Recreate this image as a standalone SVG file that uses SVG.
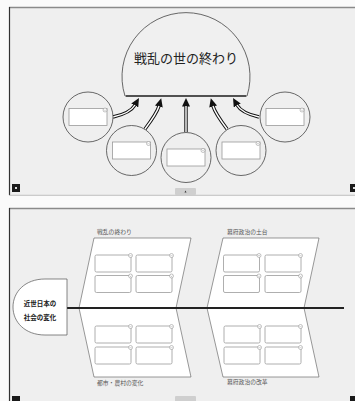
<svg xmlns="http://www.w3.org/2000/svg" width="355" height="401" viewBox="0 0 355 401">
<style>
.panel{fill:#efefef}
.tb{stroke:#8a8a8a;stroke-width:1.5}
.lb{stroke:#333;stroke-width:1.2}
.circ{fill:#efefef;stroke:#444;stroke-width:0.8}
.wbox{fill:#fff;stroke:#9a9a9a;stroke-width:0.8}
.ico{fill:#fff;stroke:#888;stroke-width:0.5}
.para{fill:#fff;stroke:#555;stroke-width:0.6}
.lbl{font-family:"Noto Sans CJK JP","Noto Sans",sans-serif;font-size:5.8px;fill:#555}
.outer{fill:none;stroke:#111;stroke-width:3.4}
.inner{fill:none;stroke:#fff;stroke-width:1.4}
.sq{fill:#1a1a1a}
.tab{fill:#cfcfcf}
</style>
<defs>
<marker id="ah" markerUnits="userSpaceOnUse" markerWidth="9" markerHeight="8" refX="0.5" refY="4" orient="auto">
<path d="M0,0 L8.5,4 L0,8 z" fill="#111"/>
</marker>
<g id="icon"><circle r="2" class="ico"/><path d="M-0.9,-0.3 L0,0.6 L0.9,-0.3" fill="none" stroke="#777" stroke-width="0.4"/></g>
</defs>
<rect width="355" height="401" fill="#fafafa"/>
<!-- top panel -->
<g id="panel-top">
<rect class="panel" x="9" y="7" width="350" height="188"/>
<line class="tb" x1="9" y1="7.5" x2="355" y2="7.5"/>
<line class="lb" x1="9.5" y1="7" x2="9.5" y2="195"/>
<line x1="9" y1="195.3" x2="355" y2="195.3" stroke="#999" stroke-width="0.6"/>
<rect class="sq" x="12" y="184" width="8" height="8"/><rect x="15" y="187" width="2" height="2" fill="#ddd"/>
<rect class="sq" x="350" y="184" width="8" height="8"/><rect x="353" y="187" width="2" height="2" fill="#ddd"/>
<rect class="tab" x="175" y="188" width="21" height="7" rx="1"/>
<path d="M184.5,192.5 L185.5,190.5 L186.5,192.5 z" fill="#333"/>
</g>
<g id="dome">
<path d="M125,96 A64,64 0 1 1 247,96 Z" fill="#f0f0f0" stroke="#444" stroke-width="0.8"/>
<line x1="126" y1="96" x2="246" y2="96" stroke="#333" stroke-width="1.6"/>
<text x="186" y="63" text-anchor="middle" font-family="Noto Sans CJK JP,Noto Sans,sans-serif" font-size="13" fill="#222">戦乱の世の終わり</text>
</g>
<g id="connectors-top">
<path class="outer" marker-end="url(#ah)" d="M113,117 C122,115 131,112 135,105"/>
<path class="inner" d="M113,117 C122,115 131,112 135,105"/>
<path class="outer" marker-end="url(#ah)" d="M145,129 C151,121 157,113 159,106"/>
<path class="inner" d="M145,129 C151,121 157,113 159,106"/>
<path class="outer" marker-end="url(#ah)" d="M186,132 L186,106"/>
<path class="inner" d="M186,132 L186,106"/>
<path class="outer" marker-end="url(#ah)" d="M227,129 C221,121 215,113 213,106"/>
<path class="inner" d="M227,129 C221,121 215,113 213,106"/>
<path class="outer" marker-end="url(#ah)" d="M259,117 C250,115 241,112 237,105"/>
<path class="inner" d="M259,117 C250,115 241,112 237,105"/>
</g>
<g id="node-c1"><circle class="circ" cx="88" cy="117" r="25"/><rect class="wbox" x="69" y="108.5" width="38" height="17"/><use href="#icon" x="105" y="110"/></g>
<g id="node-c2"><circle class="circ" cx="131.5" cy="150.5" r="25"/><rect class="wbox" x="112.5" y="142" width="38" height="17"/><use href="#icon" x="148.5" y="143.5"/></g>
<g id="node-c3"><circle class="circ" cx="186" cy="157.5" r="25"/><rect class="wbox" x="167" y="149" width="38" height="17"/><use href="#icon" x="203" y="150.5"/></g>
<g id="node-c4"><circle class="circ" cx="241" cy="150.5" r="25"/><rect class="wbox" x="222" y="142" width="38" height="17"/><use href="#icon" x="258" y="143.5"/></g>
<g id="node-c5"><circle class="circ" cx="285" cy="117" r="25"/><rect class="wbox" x="266" y="108.5" width="38" height="17"/><use href="#icon" x="302" y="110"/></g>
<!-- bottom panel -->
<g id="panel-bottom">
<rect class="panel" x="9" y="208" width="350" height="200"/>
<line class="tb" x1="9" y1="208.5" x2="355" y2="208.5"/>
<line class="lb" x1="9.5" y1="208" x2="9.5" y2="401"/>
<rect class="sq" x="12" y="396" width="8" height="8"/>
<rect class="sq" x="350" y="396" width="8" height="8"/>
<rect class="tab" x="175" y="396" width="21" height="7" rx="1"/>
</g>
<g id="rib-tl">
<polygon class="para" points="94,238 191,238 176,308 79,308"/>
<text class="lbl" x="97" y="233.8">戦乱の終わり</text>
<rect class="wbox" x="95" y="255" width="36" height="17" rx="1.5"/><use href="#icon" x="130.5" y="255.5"/>
<rect class="wbox" x="136" y="255" width="36" height="17" rx="1.5"/><use href="#icon" x="171.5" y="255.5"/>
<rect class="wbox" x="95" y="275.5" width="36" height="17" rx="1.5"/><use href="#icon" x="130.5" y="276"/>
<rect class="wbox" x="136" y="275.5" width="36" height="17" rx="1.5"/><use href="#icon" x="171.5" y="276"/>
</g>
<g id="rib-tr">
<polygon class="para" points="223,238 319,238 304,308 207,308"/>
<text class="lbl" x="227" y="233.8">幕府政治の土台</text>
<rect class="wbox" x="223.5" y="255" width="36" height="17" rx="1.5"/><use href="#icon" x="259" y="255.5"/>
<rect class="wbox" x="265" y="255" width="36" height="17" rx="1.5"/><use href="#icon" x="300.5" y="255.5"/>
<rect class="wbox" x="223.5" y="275.5" width="36" height="17" rx="1.5"/><use href="#icon" x="259" y="276"/>
<rect class="wbox" x="265" y="275.5" width="36" height="17" rx="1.5"/><use href="#icon" x="300.5" y="276"/>
</g>
<g id="rib-bl">
<polygon class="para" points="79,308 176,308 191,377 94,377"/>
<text class="lbl" x="97" y="384.8">都市・農村の変化</text>
<rect class="wbox" x="95" y="326" width="36" height="17" rx="1.5"/><use href="#icon" x="130.5" y="326.5"/>
<rect class="wbox" x="136" y="326" width="36" height="17" rx="1.5"/><use href="#icon" x="171.5" y="326.5"/>
<rect class="wbox" x="95" y="347" width="36" height="17" rx="1.5"/><use href="#icon" x="130.5" y="347.5"/>
<rect class="wbox" x="136" y="347" width="36" height="17" rx="1.5"/><use href="#icon" x="171.5" y="347.5"/>
</g>
<g id="rib-br">
<polygon class="para" points="207,308 304,308 319,377 223,377"/>
<text class="lbl" x="227" y="384">幕府政治の改革</text>
<rect class="wbox" x="224" y="326" width="36" height="17" rx="1.5"/><use href="#icon" x="259.5" y="326.5"/>
<rect class="wbox" x="265" y="326" width="36" height="17" rx="1.5"/><use href="#icon" x="300.5" y="326.5"/>
<rect class="wbox" x="224" y="347" width="36" height="17" rx="1.5"/><use href="#icon" x="259.5" y="347.5"/>
<rect class="wbox" x="265" y="347" width="36" height="17" rx="1.5"/><use href="#icon" x="300.5" y="347.5"/>
</g>
<g id="connectors-bottom">
<line x1="67" y1="308" x2="344" y2="308" stroke="#222" stroke-width="2"/>
</g>
<g id="head-node">
<path d="M67,279 H45 C25,279 13,292 13,307 C13,322 25,335 45,335 H67 Z" fill="#fff" stroke="#555" stroke-width="0.7"/>
<text x="40" y="305.5" text-anchor="middle" font-family="Noto Sans CJK JP,Noto Sans,sans-serif" font-size="6.5" font-weight="bold" fill="#222">近世日本の</text>
<text x="40" y="319.5" text-anchor="middle" font-family="Noto Sans CJK JP,Noto Sans,sans-serif" font-size="6.5" font-weight="bold" fill="#222">社会の変化</text>
</g>
</svg>
